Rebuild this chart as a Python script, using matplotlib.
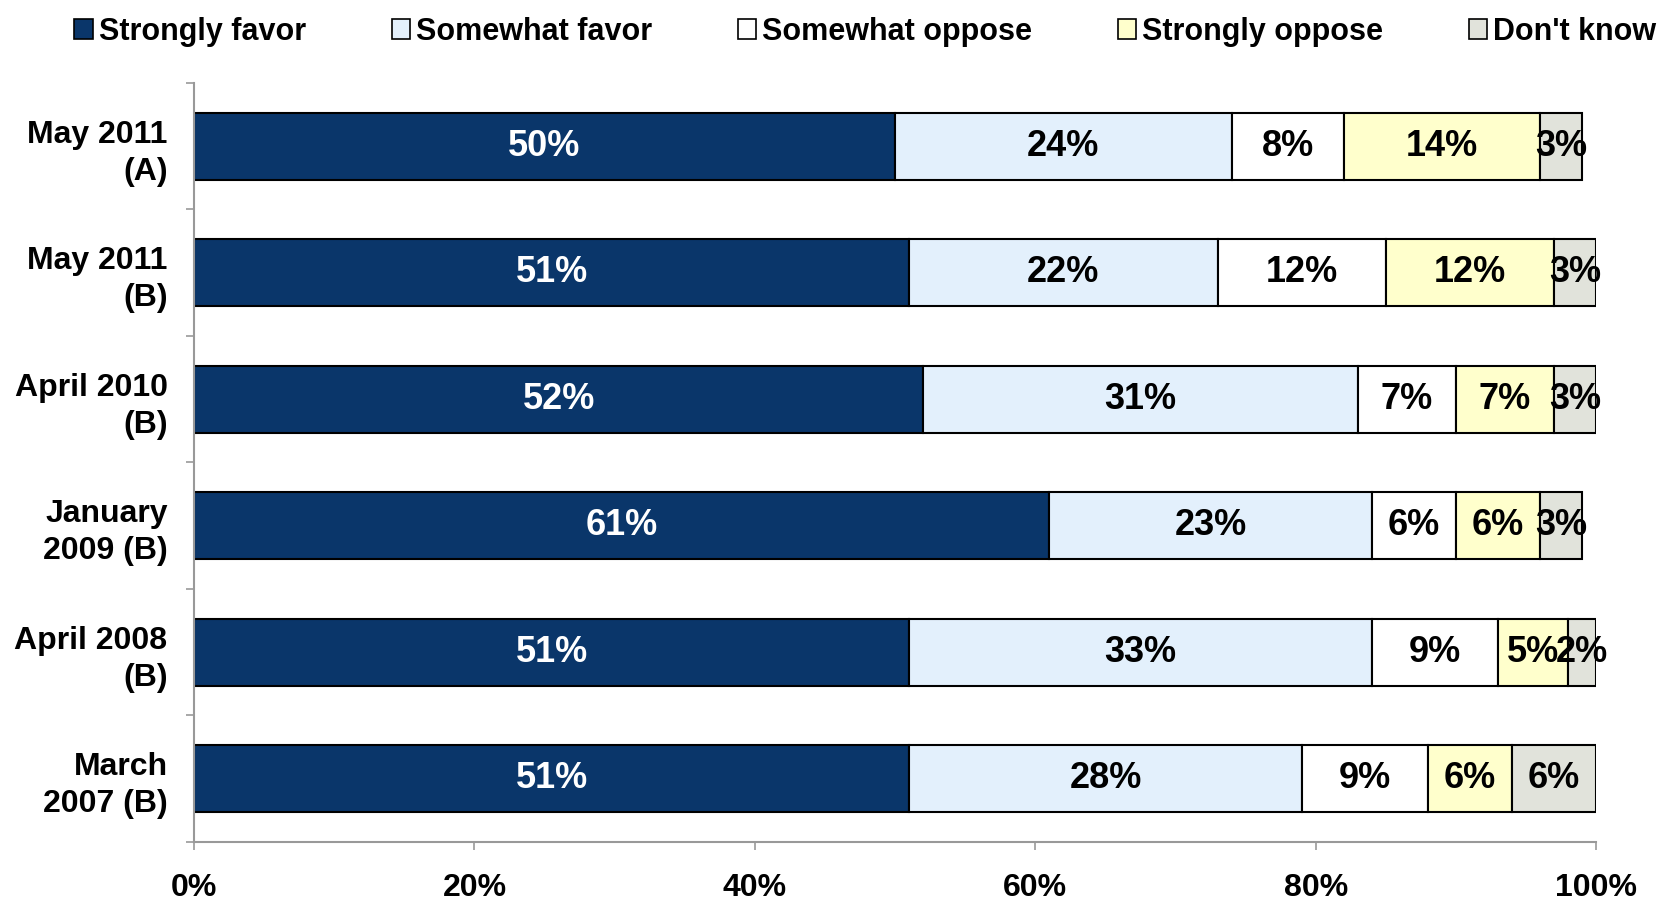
import numpy as np
import matplotlib
matplotlib.use('Agg')
import matplotlib.pyplot as plt
from matplotlib.ticker import FixedLocator

plt.rcParams['font.family'] = ['Liberation Sans Narrow', 'Liberation Sans', 'DejaVu Sans']
plt.rcParams['font.weight'] = 'bold'

# survey waves, top to bottom
categories = ['May 2011\n(A)', 'May 2011\n(B)', 'April 2010\n(B)',
              'January\n2009 (B)', 'April 2008\n(B)', 'March\n2007 (B)']
series = ['Strongly favor', 'Somewhat favor', 'Somewhat oppose',
          'Strongly oppose', "Don't know"]
strongly_favor = [50, 51, 52, 61, 51, 51]
somewhat_favor = [24, 22, 31, 23, 33, 28]
somewhat_oppose = [8, 12, 7, 6, 9, 9]
strongly_oppose = [14, 12, 7, 6, 5, 6]
dont_know = [3, 3, 3, 3, 2, 6]
x_ticks = [0, 20, 40, 60, 80, 100]

colors = ['#0A366A', '#E3F0FC', '#FFFFFF', '#FFFFCC', '#E1E3DB']
text_colors = ['white', 'black', 'black', 'black', 'black']

values = np.array([strongly_favor, somewhat_favor, somewhat_oppose,
                   strongly_oppose, dont_know], dtype=float)

fig = plt.figure(figsize=(16.61, 9.01), dpi=100)
ax = fig.add_axes([0.1168, 0.0655, 0.8442, 0.8425])

y = np.arange(len(categories))
left = np.zeros(len(categories))
for i, name in enumerate(series):
    ax.barh(y, values[i], left=left, height=0.53, color=colors[i],
            edgecolor='black', linewidth=1.5, label=name)
    for j in range(len(categories)):
        ax.text(left[j] + values[i][j] / 2, y[j], '%d%%' % values[i][j],
                ha='center', va='center', fontsize=26, fontweight='bold',
                color=text_colors[i])
    left += values[i]

ax.set_xlim(0, 100)
ax.set_ylim(len(categories) - 0.5, -0.5)
ax.set_yticks(y)
ax.set_yticklabels(categories, fontsize=23, fontweight='bold', ha='right',
                   linespacing=1.3)
ax.yaxis.set_minor_locator(FixedLocator(np.arange(-0.5, len(categories), 1)))
ax.tick_params(axis='y', which='major', length=0, pad=19)
ax.tick_params(axis='y', which='minor', length=6, color='#999999', width=1.2)
ax.set_xticks(x_ticks)
ax.set_xticklabels(['%d%%' % t for t in x_ticks], fontsize=23, fontweight='bold')
ax.tick_params(axis='x', length=6, color='#999999', width=1.2, pad=16)

for s in ['top', 'right']:
    ax.spines[s].set_visible(False)
for s in ['left', 'bottom']:
    ax.spines[s].set_color('#999999')
    ax.spines[s].set_linewidth(1.5)

leg = fig.legend(loc='upper center', bbox_to_anchor=(0.521, 1.012), ncol=5,
                 frameon=False, fontsize=22, handlelength=0.6, handleheight=0.6,
                 handletextpad=0.2, columnspacing=2.8)
for h in leg.legend_handles:
    h.set_linewidth(1.2)

fig.savefig('out.png', dpi=100)
